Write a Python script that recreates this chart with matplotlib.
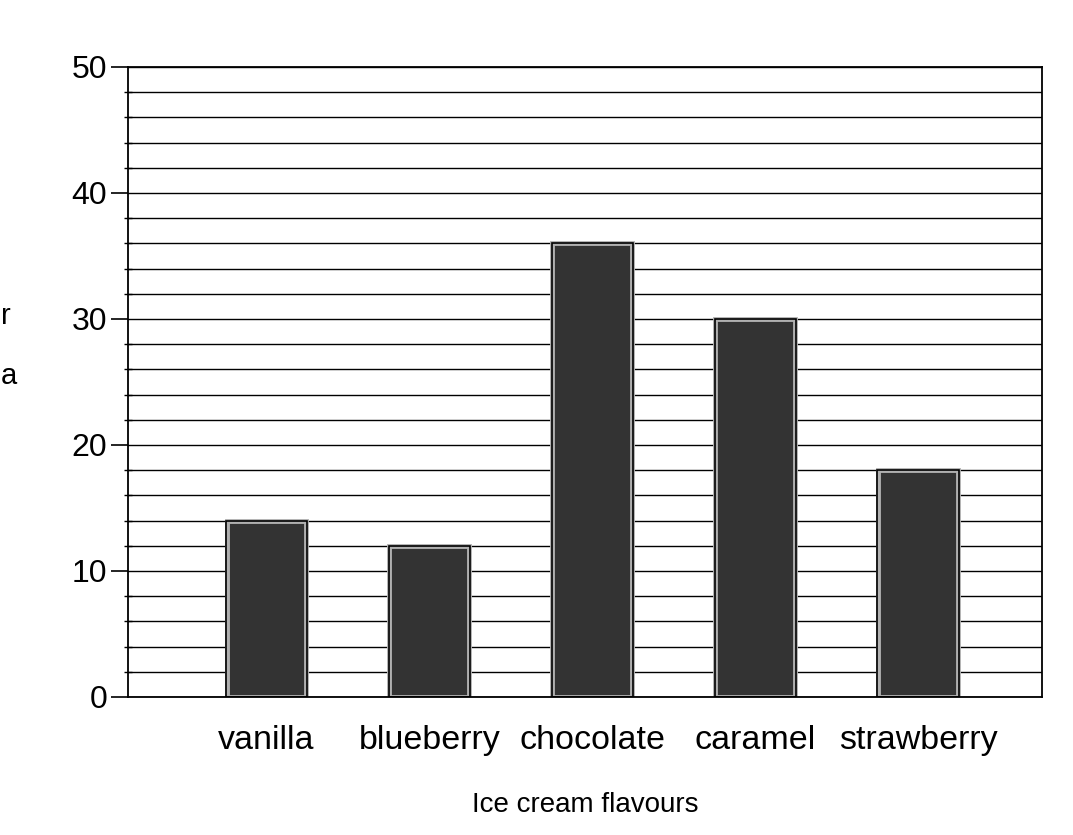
import matplotlib
matplotlib.use('Agg')
import matplotlib.pyplot as plt
from matplotlib.ticker import MultipleLocator

plt.rcParams['font.family'] = ['Liberation Sans', 'DejaVu Sans']

# Data
flavours = ['vanilla', 'blueberry', 'chocolate', 'caramel', 'strawberry']
counts = [14, 12, 36, 30, 18]
y_ticks = [0, 10, 20, 30, 40, 50]

fig = plt.figure(figsize=(10.73, 8.35), dpi=100)
ax = fig.add_axes([128 / 1073, 1 - 697 / 835, (1042 - 128) / 1073, (697 - 67) / 835])

x = list(range(len(flavours)))
ax.set_xlim(-0.85, 4.76)
ax.set_ylim(0, 50)

# horizontal grid every 2 units
ax.yaxis.set_major_locator(MultipleLocator(10))
ax.yaxis.set_minor_locator(MultipleLocator(2))
ax.grid(True, which='both', axis='y', color='black', linewidth=1.0, zorder=0)
ax.set_axisbelow(True)

# bars: dark speckled fill with light inner rim and black outline
ax.bar(x, counts, width=0.49, color='#333333', edgecolor='#b0b0b0', linewidth=3.5, zorder=2)
ax.bar(x, counts, width=0.50, fill=False, edgecolor='black', linewidth=1.2, zorder=3)

ax.set_yticks(y_ticks)
ax.set_yticklabels([str(v) for v in y_ticks], fontsize=23)
ax.tick_params(axis='y', which='major', length=12, width=1.2, direction='out', pad=3)
ax.tick_params(axis='y', which='minor', length=6, width=1.0, direction='inout')
ax.set_xticks(x)
ax.set_xticklabels(flavours, fontsize=24.5)
ax.tick_params(axis='x', length=0, pad=20)
ax.set_xlabel('Ice cream flavours', fontsize=20, labelpad=26)

for s in ax.spines.values():
    s.set_linewidth(1.3)

# y label partially cropped at the left edge
fig.text(1 / 1073, 1 - 316 / 835, 'r', fontsize=21, ha='left', va='center')
fig.text(1 / 1073, 1 - 376 / 835, 'a', fontsize=21, ha='left', va='center')

fig.savefig('out.png', dpi=100, facecolor='white')
